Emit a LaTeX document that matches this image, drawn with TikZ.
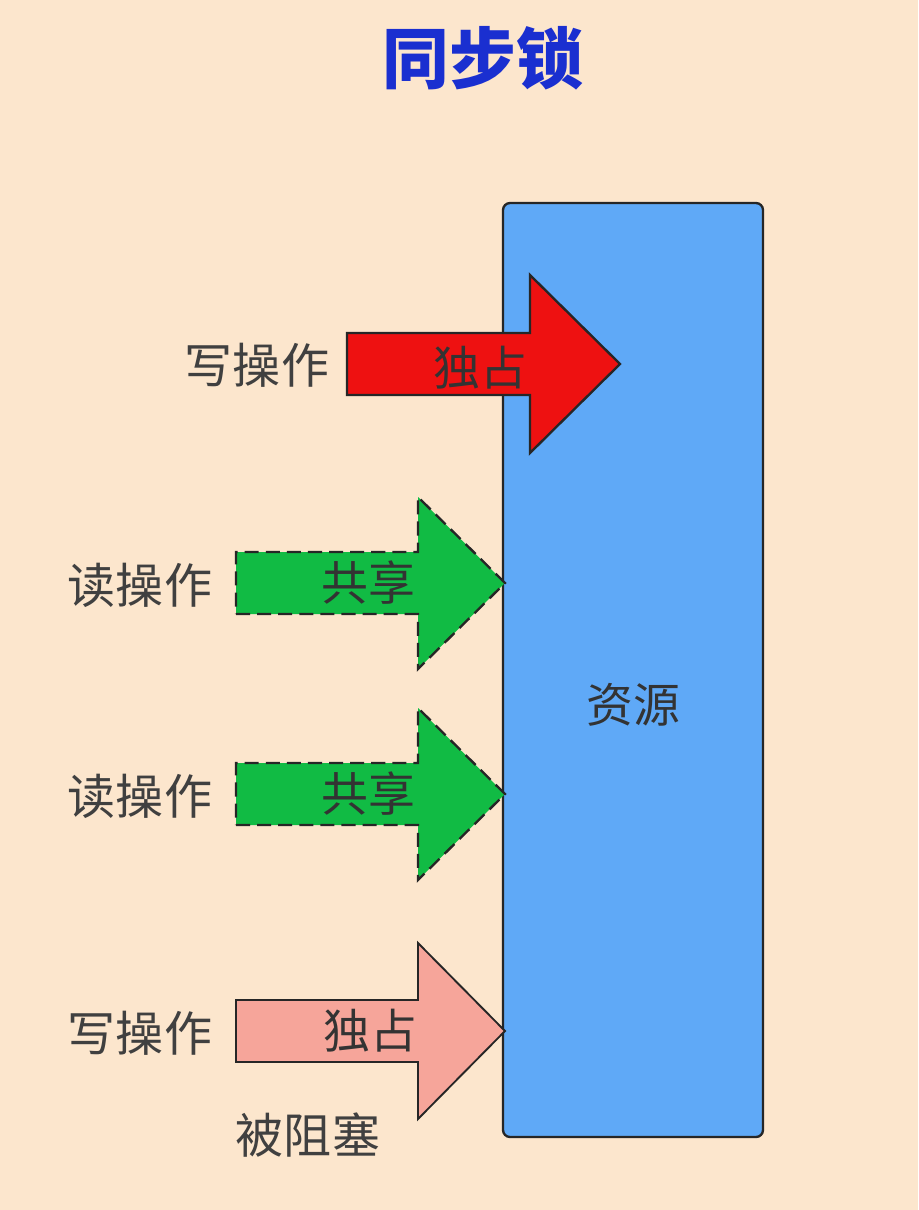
\documentclass[tikz,border=0pt]{standalone}
\usepackage{fontspec}
\setmainfont{Noto Sans CJK SC}
\usepackage{tikz}
\usetikzlibrary{calc}
\definecolor{peach}{HTML}{FCE6CD}
\definecolor{resblue}{HTML}{5FA9F7}
\definecolor{lockred}{HTML}{EE1111}
\definecolor{sharegreen}{HTML}{11BB44}
\definecolor{waitpink}{HTML}{F6A59A}
\definecolor{titleblue}{HTML}{1A2FD0}
\newcommand{\shaftw}{31}
% block arrow: tail x, tip x, head x, centre y, head half-height
\newcommand{\blockarrow}[6]{%
\draw[#6] (#1,#4+\shaftw) -- (#3,#4+\shaftw) -- (#3,#4+#5) -- (#2,#4)
  -- (#3,#4-#5) -- (#3,#4-\shaftw) -- (#1,#4-\shaftw) -- cycle;}
\tikzset{
  op/.style={font=\fontsize{41}{44}\selectfont, text=black!75},
  tag/.style={font=\fontsize{40}{44}\selectfont, text=black!80},
  arrowline/.style={line width=2pt, draw=black!85}
}
\begin{document}
\begin{tikzpicture}[x=0.03cm,y=-0.03cm]
\fill[peach] (0,0) rectangle (918,1210);
\useasboundingbox (0,0) rectangle (918,1210);
\node[font=\fontsize{57}{60}\selectfont\bfseries, text=titleblue] (title) at (483,58) {同步锁};
\draw[arrowline, fill=resblue, rounded corners=6] (503,203) rectangle (763,1137);
\node[tag] (res) at (633,705) {资源};
% write, exclusive
\blockarrow{347}{620}{530}{364}{89}{arrowline, fill=lockred}
\node[tag] (excl1) at (480,368) {独占};
\node[op] (write1) at (257,365) {写操作};
% reads, shared
\foreach \y/\nm in {583/read1, 794/read2}{
  \blockarrow{236}{505}{418}{\y}{86}{arrowline, dashed, dash pattern=on 12pt off 6pt, fill=sharegreen}
  \node[tag] (share-\nm) at (368,\y) {共享};
  \node[op] (\nm) at (140,\y+2) {读操作};
}
% blocked write
\blockarrow{236}{505}{418}{1031}{88}{arrowline, line width=1.6pt, fill=waitpink}
\node[tag] (excl2) at (370,1031) {独占};
\node[op] (write2) at (140,1033) {写操作};
\node[op] (blocked) at (308,1135) {被阻塞};
\end{tikzpicture}
\end{document}
